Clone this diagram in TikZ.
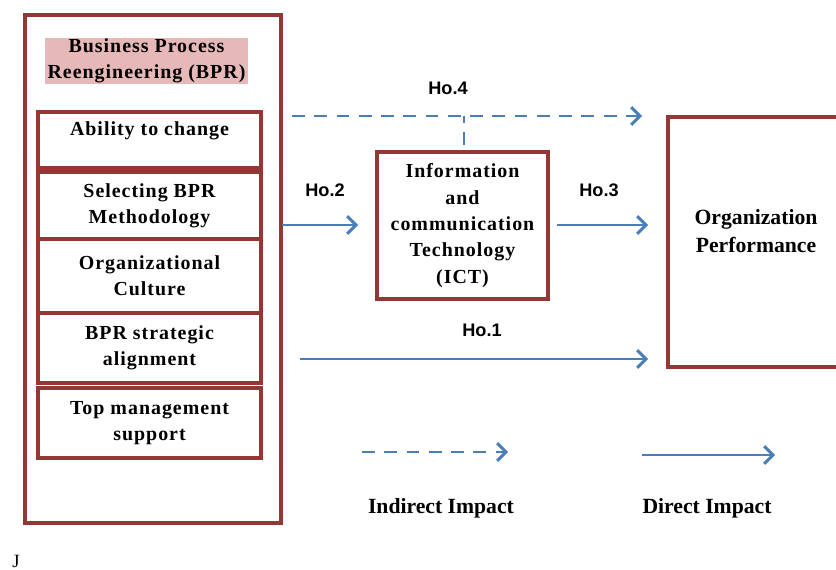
\documentclass[tikz,border=0pt]{standalone}
\usepackage{fontspec}
\setmainfont{Liberation Serif}
\newfontfamily\hofont{Liberation Sans}
\newfontfamily\spacedserif[LetterSpace=5]{Liberation Serif}
\usetikzlibrary{arrows.meta,calc}
\definecolor{boxred}{HTML}{953735}
\definecolor{arrowblue}{HTML}{4A7EBB}
\definecolor{pinkfill}{HTML}{E6B9B8}
\begin{document}
\begin{tikzpicture}[x=0.03cm,y=-0.03cm,
  redbox/.style={draw=boxred,line width=3.2pt,inner sep=0pt},
  boxtext/.style={font=\spacedserif\bfseries\fontsize{17}{22.5}\selectfont,align=center,inner sep=0pt},
  bigtext/.style={font=\bfseries\fontsize{18.5}{24}\selectfont,align=center,inner sep=0pt},
  holabel/.style={font=\hofont\bfseries\fontsize{15.5}{18}\selectfont,inner sep=0pt},
  solidarrow/.style={draw=arrowblue,line width=2.5pt,-{Straight Barb[length=7.5pt,width=15pt,line width=2.5pt]}},
  dashedarrow/.style={solidarrow,dash pattern=on 11pt off 8pt},
  dashedline/.style={draw=arrowblue,line width=2.5pt,dash pattern=on 11pt off 8pt}]
\useasboundingbox (0,0) rectangle (836,570);

% left block
\node[redbox,minimum width=7.68cm,minimum height=15.24cm] (outer) at (153,269) {};
\node[fill=pinkfill,minimum width=6.09cm,minimum height=1.38cm,boxtext] (bpr) at (146.5,61)
  {Business Process\\Reengineering (BPR)};
\node[redbox,minimum width=6.69cm,minimum height=1.68cm] (b1) at (149.5,140) {};
\node[boxtext] (t1) at (149.5,131) {Ability to change};
\node[redbox,minimum width=6.69cm,minimum height=2.01cm,boxtext] (b2) at (149.5,205.5) {Selecting BPR\\Methodology};
\node[redbox,minimum width=6.69cm,minimum height=2.22cm,boxtext] (b3) at (149.5,276) {Organizational\\Culture};
\node[redbox,minimum width=6.69cm,minimum height=2.1cm,boxtext] (b4) at (149.5,348) {BPR strategic\\alignment};
\node[redbox,minimum width=6.69cm,minimum height=2.1cm,boxtext] (b5) at (149.5,423) {Top management\\support};

% ICT
\node[redbox,minimum width=5.13cm,minimum height=4.41cm,boxtext] (ict) at (462.5,225.5)
  {Information\\and\\communication\\Technology\\(ICT)};

% Organization performance
\node[redbox,minimum width=6cm,minimum height=7.5cm] (op) at (768,242) {};
\node[bigtext] (opt) at (756,231) {Organization\\Performance};

% coordinates for arrows
\coordinate (h4s) at (292,116);
\coordinate (h4e) at (642,116);
\coordinate (h4j) at (464,116);
\coordinate (h4b) at (464,145);
\coordinate (h2s) at (282,225);
\coordinate (h2e) at (358,225);
\coordinate (h3s) at (557,225);
\coordinate (h3e) at (648,225);
\coordinate (h1s) at (300,359);
\coordinate (h1e) at (648,359);
\coordinate (l1s) at (362,452);
\coordinate (l1e) at (508,452);
\coordinate (l2s) at (642,455);
\coordinate (l2e) at (775,455);

\draw[dashedarrow] (h4s) -- (h4e);
\draw[dashedline] (h4b) -- (h4j);
\draw[solidarrow] (h2s) -- (h2e);
\draw[solidarrow] (h3s) -- (h3e);
\draw[solidarrow] (h1s) -- (h1e);
\draw[dashedarrow] (l1s) -- (l1e);
\draw[solidarrow] (l2s) -- (l2e);

\node[holabel] (lh4) at (448,88) {Ho.4};
\node[holabel] (lh2) at (325,190) {Ho.2};
\node[holabel] (lh3) at (599,190) {Ho.3};
\node[holabel] (lh1) at (482,330) {Ho.1};

\node[bigtext] (ind) at (441,508) {Indirect Impact};
\node[bigtext] (dir) at (707,508) {Direct Impact};

\node[font=\fontsize{16}{18}\selectfont,inner sep=0pt] (jj) at (16,561) {J};
\end{tikzpicture}
\end{document}
